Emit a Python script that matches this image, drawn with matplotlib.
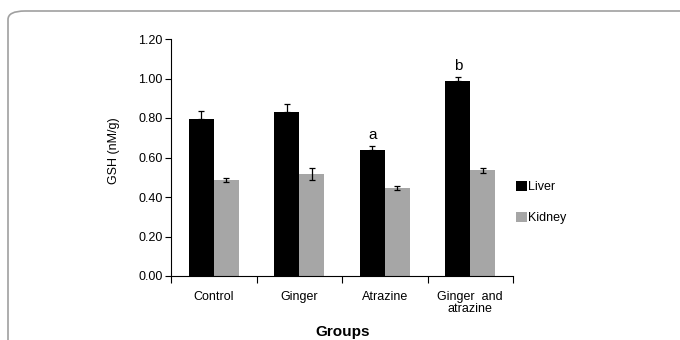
import numpy as np
import matplotlib.pyplot as plt
from matplotlib.patches import FancyBboxPatch

plt.rcParams['font.family'] = ['Liberation Sans', 'DejaVu Sans']

groups = ['Control', 'Ginger', 'Atrazine', 'Ginger  and\natrazine']
liver = [0.793, 0.828, 0.636, 0.987]
liver_err = [0.040, 0.044, 0.023, 0.020]
kidney = [0.486, 0.516, 0.444, 0.536]
kidney_err = [0.010, 0.030, 0.010, 0.012]
letters = ['', '', 'a', 'b']

fig = plt.figure(figsize=(6.8, 3.4), dpi=100)

# rounded page frame, cut at right/bottom like the source
frame = FancyBboxPatch((8 / 680, -0.2), 1.2, 1 - 11 / 340 + 0.2,
                       boxstyle='round,pad=0,rounding_size=0.025',
                       transform=fig.transFigure, fill=False,
                       edgecolor='#a0a0a0', linewidth=1.2, zorder=0)
fig.patches.append(frame)

ax = fig.add_axes([171 / 680, 1 - 276 / 340, (513 - 171) / 680, (276 - 39) / 340])

x = np.arange(len(groups))
w = 0.29
ax.bar(x - w / 2, liver, w, color='black', label='Liver', zorder=2)
ax.bar(x + w / 2, kidney, w, color='#a6a6a6', label='Kidney', zorder=2)
ax.errorbar(x - w / 2, liver, yerr=[np.zeros(4), liver_err], fmt='none',
            ecolor='black', elinewidth=0.9, capsize=2.5, capthick=0.9, zorder=3)
ax.errorbar(x + w / 2, kidney, yerr=kidney_err, fmt='none',
            ecolor='black', elinewidth=0.9, capsize=2.5, capthick=0.9, zorder=3)

for xi, v, e, t in zip(x, liver, liver_err, letters):
    if t:
        ax.text(xi - w / 2, v + e + 0.02, t, ha='center', va='bottom', fontsize=11)

ax.set_xlim(-0.5, len(groups) - 0.5)
ax.set_ylim(0, 1.2)
ax.set_yticks(np.arange(0, 1.21, 0.2))
ax.set_yticklabels([f'{v:.2f}' for v in np.arange(0, 1.21, 0.2)], fontsize=9)
ax.set_xticks(np.arange(-0.5, len(groups), 1.0))
ax.set_xticklabels([])
ax.set_xticks(x, minor=True)
ax.set_xticklabels(groups, minor=True, fontsize=9, linespacing=0.95)
ax.tick_params(axis='x', which='minor', length=0, pad=11)
ax.tick_params(axis='x', which='major', length=5, width=0.8)
ax.tick_params(axis='y', length=4, width=0.8, pad=2)

for s in ['top', 'right']:
    ax.spines[s].set_visible(False)
for s in ['left', 'bottom']:
    ax.spines[s].set_linewidth(0.8)

ax.set_ylabel('GSH (nM/g)', fontsize=9)
ax.yaxis.set_label_coords(-0.15, 0.53)
fig.text(343 / 680, 1 - 332 / 340, 'Groups', ha='center', va='center',
         fontsize=11, fontweight='bold')

ax.legend(loc='center left', bbox_to_anchor=(0.975, 0.31), frameon=False,
          fontsize=9, handlelength=0.9, handleheight=0.9, handletextpad=0.1,
          labelspacing=1.5)

fig.savefig('out.png', dpi=100, facecolor='white')
